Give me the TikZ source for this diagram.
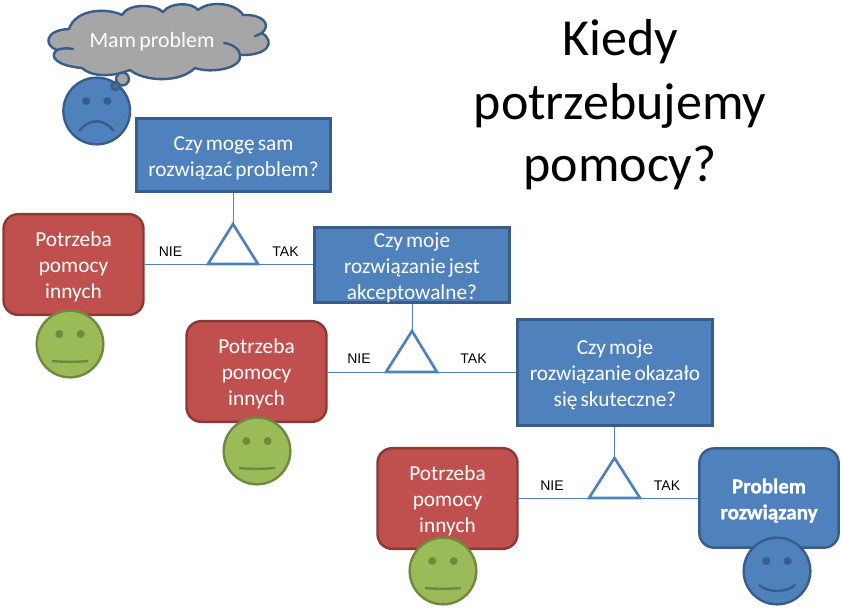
\documentclass[tikz,border=0pt]{standalone}
\usepackage{fontspec}
\setmainfont[WordSpace=0.65]{Carlito}
\newfontfamily\titlef{Carlito}
\newfontfamily\heavyf[UprightFont=* Bold,FakeBold=1.2,WordSpace=0.65]{Carlito}
\newfontfamily\arialf{Liberation Sans}
\definecolor{bfill}{HTML}{4F81BD}
\definecolor{bdraw}{HTML}{385D8A}
\definecolor{rfill}{HTML}{C0504D}
\definecolor{rdraw}{HTML}{8C3836}
\definecolor{gfill}{HTML}{9BBB59}
\definecolor{gdraw}{HTML}{71893F}
\definecolor{cfill}{HTML}{A6A6A6}
\newcommand{\lowr}{\rule{0pt}{15pt}}
\tikzset{
  x=0.75pt,y=-0.75pt,
  qbox/.style={draw=bdraw,fill=bfill,line width=2.2pt,minimum width=146pt,text width=140pt,align=flush center,text=white,font=\fontsize{16}{19.5}\selectfont,inner sep=0pt},
  redbox/.style={draw=rdraw,fill=rfill,line width=1.8pt,rounded corners=11pt,minimum width=105pt,minimum height=75.5pt,text width=100pt,align=flush center,text=white,font=\fontsize{16}{19.5}\selectfont,inner sep=0pt},
  goodbox/.style={draw=bdraw,fill=bfill,line width=1.8pt,rounded corners=11pt,minimum width=104.5pt,minimum height=74.5pt,text width=100pt,align=flush center,text=white,font=\heavyf\fontsize{15.8}{19.5}\selectfont,inner sep=0pt},
  conn/.style={draw=bfill,line width=0.6pt},
  tri/.style={draw=bfill,line width=2pt,line join=miter,fill=white},
  lab/.style={font=\arialf\fontsize{10.5}{12}\selectfont,text=black,inner sep=0pt},
  face/.style={circle,line width=1.8pt,minimum size=50pt,inner sep=0pt},
  bluef/.style={face,draw=bdraw,fill=bfill},
  greenf/.style={face,draw=gdraw,fill=gfill},
  titl/.style={font=\titlef\fontsize{39}{46}\selectfont,text=black,inner sep=0pt},
}
\begin{document}
\begin{tikzpicture}
\useasboundingbox (0,0) rectangle (842,615);
\coordinate (t1a) at (233,224); \coordinate (t1l) at (208,264); \coordinate (t1r) at (258,264);
\coordinate (t2a) at (412,331); \coordinate (t2l) at (386,372); \coordinate (t2r) at (437,372);
\coordinate (t3a) at (614.5,458); \coordinate (t3l) at (589,498); \coordinate (t3r) at (640,498);

\node[qbox,minimum height=55pt] (q1) at (233.5,155) {\lowr Czy mogę sam\\rozwiązać problem?};
\node[qbox,minimum height=55pt] (q2) at (412,265) {\lowr Czy moje\\rozwiązanie jest\\akceptowalne?};
\node[qbox,minimum height=80pt] (q3) at (615,372.5) {\lowr Czy moje\\rozwiązanie okazało\\się skuteczne?};
\node[redbox] (r1) at (73.5,264.5) {\lowr Potrzeba\\pomocy\\innych};
\node[redbox] (r2) at (256.5,371.5) {\lowr Potrzeba\\pomocy\\innych};
\node[redbox] (r3) at (447.5,498.5) {\lowr Potrzeba\\pomocy\\innych};
\node[goodbox] (ok) at (769,498) {\lowr Problem\\rozwiązany};

\draw[conn] (t1a |- q1.south) -- (t1a);
\draw[conn] (t1l -| r1.east) -- (t1l);
\draw[conn] (t1r) -- (t1r -| q2.west);
\draw[conn] (t2a |- q2.south) -- (t2a);
\draw[conn] (t2l -| r2.east) -- (t2l);
\draw[conn] (t2r) -- (t2r -| q3.west);
\draw[conn] (t3a |- q3.south) -- (t3a);
\draw[conn] (t3l -| r3.east) -- (t3l);
\draw[conn] (t3r) -- (t3r -| ok.west);
\draw[tri] (t1a) -- (t1l) -- (t1r) -- cycle;
\draw[tri] (t2a) -- (t2l) -- (t2r) -- cycle;
\draw[tri] (t3a) -- (t3l) -- (t3r) -- cycle;

\node[lab] (n1) at (170.5,252) {NIE};
\node[lab] (k1) at (285.5,252) {TAK};
\node[lab] (n2) at (359,359) {NIE};
\node[lab] (k2) at (473.5,359) {TAK};
\node[lab] (n3) at (552,486) {NIE};
\node[lab] (k3) at (667,486) {TAK};

\draw[draw=bdraw,fill=cfill,line width=1.8pt,line join=round]
 (69,29) .. controls (76,8) and (108,8) .. (122,15)
 .. controls (128,3) and (155,4) .. (163,12)
 .. controls (170,2) and (192,2) .. (198,10)
 .. controls (210,0) and (236,3) .. (243,15)
 .. controls (262,14) and (272,24) .. (262,33)
 .. controls (276,42) and (268,56) .. (240,55)
 .. controls (243,68) and (212,74) .. (195,68)
 .. controls (180,83) and (145,82) .. (130,70)
 .. controls (110,78) and (90,76) .. (82,68)
 .. controls (58,66) and (48,57) .. (57,50)
 .. controls (44,46) and (44,30) .. (69,29) -- cycle;
\draw[draw=bdraw,line width=1.8pt,line cap=round]
 (57,50) .. controls (62,48) and (68,48) .. (73,49)
 (255,36) .. controls (258,35) and (260,34) .. (262,33)
 (224,43) .. controls (232,44) and (240,49) .. (240,55);
\node[text=white,inner sep=0pt,font=\fontsize{16.4}{18}\selectfont] (mp) at (152,42) {Mam problem};

\node[bluef] (f0) at (96.7,111) {};
\draw[bdraw,fill=cfill,line width=1.8pt] (122.5,79) circle (4.8pt);
\draw[bdraw,fill=bdraw!80!cfill,line width=1.8pt] (115.5,86) circle (3pt);
\node[greenf] (f1) at (70,344) {};
\node[greenf] (f2) at (257,451) {};
\node[greenf] (f3) at (443,571) {};
\node[bluef] (f4) at (777,571) {};

\fill[bdraw] ([xshift=-8pt,yshift=7.5pt]f0.center) circle (3pt) ([xshift=8pt,yshift=7.5pt]f0.center) circle (3pt);
\fill[gdraw] ([xshift=-8pt,yshift=7.5pt]f1.center) circle (3pt) ([xshift=8pt,yshift=7.5pt]f1.center) circle (3pt);
\fill[gdraw] ([xshift=-8pt,yshift=7.5pt]f2.center) circle (3pt) ([xshift=8pt,yshift=7.5pt]f2.center) circle (3pt);
\fill[gdraw] ([xshift=-8pt,yshift=7.5pt]f3.center) circle (3pt) ([xshift=8pt,yshift=7.5pt]f3.center) circle (3pt);
\fill[bdraw] ([xshift=-8pt,yshift=7.5pt]f4.center) circle (3pt) ([xshift=8pt,yshift=7.5pt]f4.center) circle (3pt);

\draw[bdraw,line width=1.8pt] (79,131) .. controls (90,118) and (103,118) .. (114,131);
\draw[gdraw,line width=1.8pt] (52,361) .. controls (62,362) and (78,362) .. (88,361);
\draw[gdraw,line width=1.8pt] (239,468) .. controls (249,469) and (265,469) .. (275,468);
\draw[gdraw,line width=1.8pt] (425,588) .. controls (435,589) and (451,589) .. (461,588);
\draw[bdraw,line width=1.8pt] (759,585) .. controls (768,593) and (786,593) .. (795,585);

\node[titl] (ti1) at (620,42) {Kiedy};
\node[titl] (ti2) at (620,106) {potrzebujemy};
\node[titl] (ti3) at (620,168) {pomocy?};
\end{tikzpicture}
\end{document}
